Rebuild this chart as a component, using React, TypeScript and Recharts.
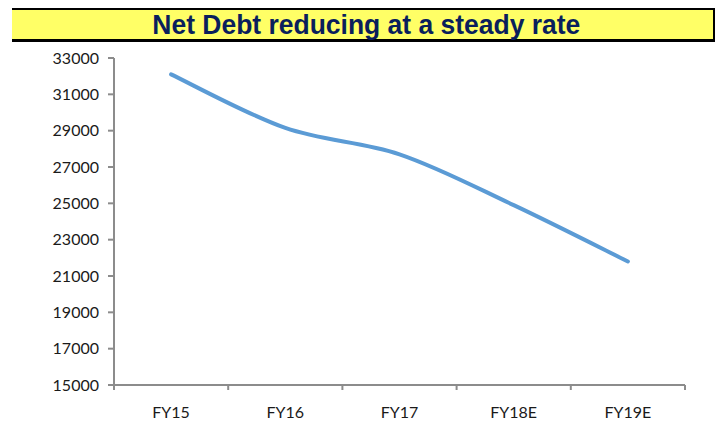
import { LineChart, Line, XAxis, YAxis } from "recharts"

const categories = ["FY15", "FY16", "FY17", "FY18E", "FY19E"]
const netDebt = [32100, 29150, 27700, 24900, 21800]
const yTicks = [15000, 17000, 19000, 21000, 23000, 25000, 27000, 29000, 31000, 33000]
const xBounds = [0, 1, 2, 3, 4, 5]

const W = 717
const H = 439
const PLOT_LEFT = 114
const PLOT_RIGHT = 685
const BAND = (PLOT_RIGHT - PLOT_LEFT) / categories.length

const data = categories.map((name, i) => ({ x: i + 0.5, name, value: netDebt[i] }))

const FONT = "Lato, 'Open Sans', sans-serif"
const AXIS = "#8c8c8c"

// spreadsheet-style smoothing (catmull-rom as cubic beziers)
function smoothCurve(context: any) {
  let pts: number[][] = []
  return {
    areaStart() {},
    areaEnd() {},
    lineStart() {
      pts = []
    },
    point(x: number, y: number) {
      pts.push([+x, +y])
    },
    lineEnd() {
      if (!pts.length) return
      context.moveTo(pts[0][0], pts[0][1])
      for (let i = 0; i < pts.length - 1; i++) {
        const p0 = pts[Math.max(0, i - 1)]
        const p1 = pts[i]
        const p2 = pts[i + 1]
        const p3 = pts[Math.min(pts.length - 1, i + 2)]
        context.bezierCurveTo(
          p1[0] + (p2[0] - p0[0]) / 6,
          p1[1] + (p2[1] - p0[1]) / 6,
          p2[0] - (p3[0] - p1[0]) / 6,
          p2[1] - (p3[1] - p1[1]) / 6,
          p2[0],
          p2[1]
        )
      }
    },
  }
}

function CatTick(props: any) {
  const { x, y, index } = props
  const label = categories[index]
  return (
    <g>
      <line x1={x} y1={y} x2={x} y2={y + 5} stroke={AXIS} strokeWidth={2} />
      {label && (
        <text x={x + BAND / 2} y={y + 33} textAnchor="middle" fontSize={16} fontFamily={FONT} fill="#1a1a1a">
          {label}
        </text>
      )}
    </g>
  )
}

export default function App() {
  return (
    <div style={{ position: "fixed", left: 0, top: 0, width: W, height: H, background: "#fff" }}>
      <div
        style={{
          position: "absolute",
          left: 12,
          top: 8,
          width: 701,
          height: 29,
          background: "#ffff66",
          borderTop: "2px solid #000",
          borderBottom: "3px solid #000",
          borderRight: "2px solid #000",
          display: "flex",
          alignItems: "center",
          justifyContent: "center",
          fontFamily: "'Liberation Sans', Arial, sans-serif",
          fontWeight: "bold",
          fontSize: 27,
          color: "#0a1f5c",
        }}
      >
        <span style={{ display: "inline-block", transform: "scaleX(0.98)", marginTop: 1, marginLeft: 8 }}>
          Net Debt reducing at a steady rate
        </span>
      </div>
      <div style={{ position: "absolute", left: 0, top: 0 }}>
        <LineChart width={W} height={H} data={data} margin={{ top: 58, right: W - PLOT_RIGHT, bottom: 14, left: 0 }}>
          <XAxis
            dataKey="x"
            type="number"
            domain={[0, 5]}
            ticks={xBounds}
            interval={0}
            height={40}
            tickLine={false}
            tickSize={0}
            tickMargin={0}
            axisLine={{ stroke: AXIS, strokeWidth: 2 }}
            tick={<CatTick />}
          />
          <YAxis
            domain={[15000, 33000]}
            ticks={yTicks}
            interval={0}
            width={PLOT_LEFT}
            tickSize={6}
            tickMargin={9}
            axisLine={{ stroke: AXIS, strokeWidth: 2 }}
            tickLine={{ stroke: AXIS, strokeWidth: 2 }}
            tick={{ fontSize: 16, fontFamily: FONT, fill: "#1a1a1a" }}
          />
          <Line
            type={smoothCurve as any}
            dataKey="value"
            stroke="#5b9bd5"
            strokeWidth={4}
            strokeLinecap="round"
            dot={false}
            activeDot={false}
            isAnimationActive={false}
          />
        </LineChart>
      </div>
    </div>
  )
}
